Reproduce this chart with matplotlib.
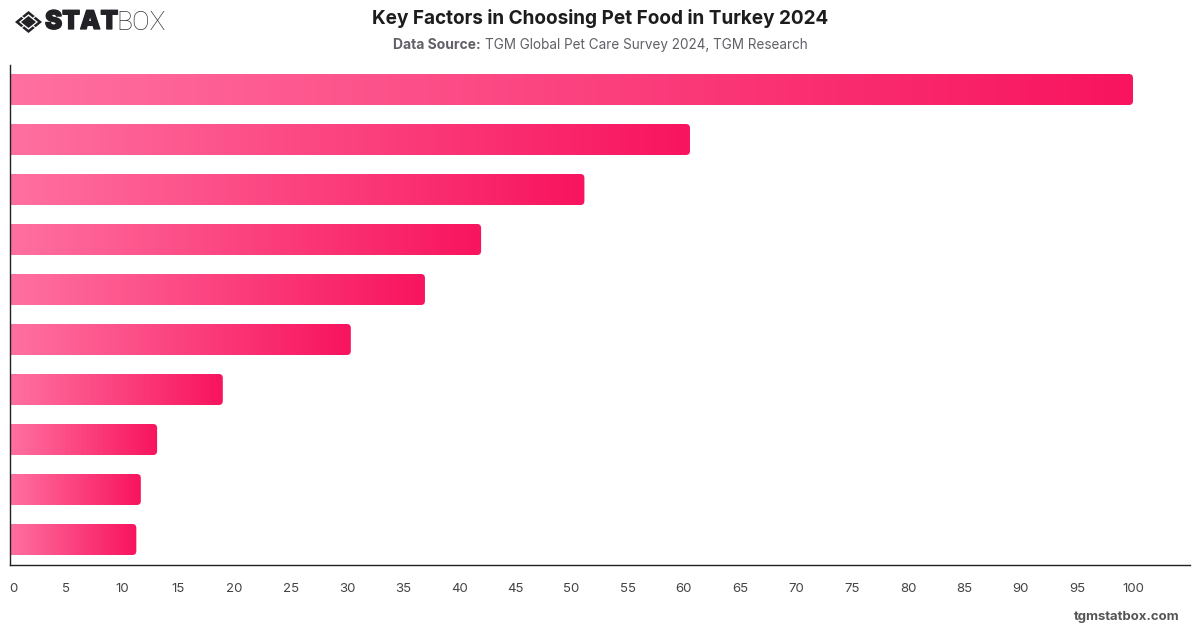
import numpy as np
import matplotlib.pyplot as plt
import matplotlib.patheffects as pe
from matplotlib.colors import LinearSegmentedColormap
from matplotlib.patches import FancyBboxPatch, Polygon

# Bar lengths, top to bottom (the factor names are not printed on the axis)
values = [100, 60.55, 51.15, 41.95, 36.95, 30.35, 18.95, 13.1, 11.65, 11.25]
ticks = list(range(0, 101, 5))

title = "Key Factors in Choosing Pet Food in Turkey 2024"
source_bold = "Data Source:"
source_text = "TGM Global Pet Care Survey 2024, TGM Research"

W, H = 1200, 628
plt.rcParams["font.family"] = ["Inter", "DejaVu Sans"]

fig = plt.figure(figsize=(W / 100, H / 100), dpi=100, facecolor="white")

# Axes box in pixels
left, right, top, bottom = 10, 1190, 64.5, 564.5
ax = fig.add_axes([left / W, 1 - bottom / H, (right - left) / W, (bottom - top) / H])
xmax = (right - left) / 11.23
ax.set_xlim(0, xmax)
ax.set_ylim(9.5, -0.5)

px_x = (right - left) / xmax
px_y = (bottom - top) / 10
bar_h = 31 / px_y

# Pink gradient, restarted on every bar and clipped to a rounded box
cmap = LinearSegmentedColormap.from_list("pink", ["#ff70a0", "#f8145f"])
grad = np.linspace(0, 1, 256).reshape(1, -1)
for i, v in enumerate(values):
    box = FancyBboxPatch((-2, i - bar_h / 2), v + 2, bar_h,
                         boxstyle="round,pad=0,rounding_size=0.36",
                         mutation_aspect=px_x / px_y,
                         facecolor="none", edgecolor="none")
    ax.add_patch(box)
    im = ax.imshow(grad, cmap=cmap, aspect="auto", interpolation="bilinear",
                   extent=(0, v, i + bar_h / 2, i - bar_h / 2), zorder=2)
    im.set_clip_path(box)
ax.set_xlim(0, xmax)
ax.set_ylim(9.5, -0.5)

for s in ["top", "right"]:
    ax.spines[s].set_visible(False)
for s in ["left", "bottom"]:
    ax.spines[s].set_color("#222222")
    ax.spines[s].set_linewidth(1)
    ax.spines[s].set_zorder(5)

ax.set_yticks([])
ax.set_xticks(ticks)
ax.set_xticklabels([])
ax.tick_params(axis="x", length=0)

# Tick labels; the first one sits just inside the axis line
for t in ticks:
    x = t if t > 0 else 0.3
    ax.annotate(str(t), (x, 0), xycoords=("data", "axes fraction"),
                xytext=(0, -17.5), textcoords="offset points", ha="center", va="center",
                fontsize=9.5, color="#444444")


def px(x, y):
    return x / W, 1 - y / H


fig.text(*px(600, 18), title, ha="center", va="center", fontsize=13.68,
         fontweight="bold", color="#1d1d1f")
fig.text(*px(481, 45), source_bold, ha="right", va="center", fontsize=10,
         fontweight="bold", color="#606068")
fig.text(*px(485, 45), source_text, ha="left", va="center", fontsize=9.76,
         color="#606068")
fig.text(*px(1180, 617), "tgmstatbox.com", ha="right", va="center", fontsize=9.45,
         fontweight="bold", color="#555555")

# Logo: nested diamond mark and wordmark
logo = fig.add_axes([0, 0, 1, 1], facecolor="none")
logo.set_xlim(0, W)
logo.set_ylim(H, 0)
logo.axis("off")
cx, cy = 28.5, 22
logo.add_patch(Polygon([(cx - 13.5, cy), (cx, cy - 11), (cx + 13.5, cy), (cx, cy + 11)],
                       facecolor="#222226", edgecolor="none"))
logo.add_patch(Polygon([(cx - 9.5, cy), (cx, cy - 7.8), (cx + 9.5, cy), (cx, cy + 7.8)],
                       facecolor="white", edgecolor="none"))
logo.add_patch(Polygon([(cx - 7.5, cy), (cx, cy - 6), (cx + 7.5, cy), (cx, cy + 6)],
                       facecolor="#222226", edgecolor="none"))
# small cuts through the outer ring
for dx, dy in [(-1, -1), (1, -1), (-1, 1), (1, 1)]:
    logo.plot([cx + dx * 4.5, cx + dx * 7.5], [cy + dy * 3.7, cy + dy * 6.2],
              color="white", lw=0.8)
logo.set_xlim(0, W)
logo.set_ylim(H, 0)
stat = logo.text(45, 22.5, "STAT", ha="left", va="center", fontsize=18.6, fontweight="black",
                 family=["Inter", "DejaVu Sans"], color="#222226")
stat.set_path_effects([pe.withStroke(linewidth=0.9, foreground="#222226")])
logo.text(116, 22.5, "BOX", ha="left", va="center", fontsize=19, fontweight="light",
          family=["Roboto", "DejaVu Sans"], color="#333337")

fig.savefig("out.png", dpi=100)
